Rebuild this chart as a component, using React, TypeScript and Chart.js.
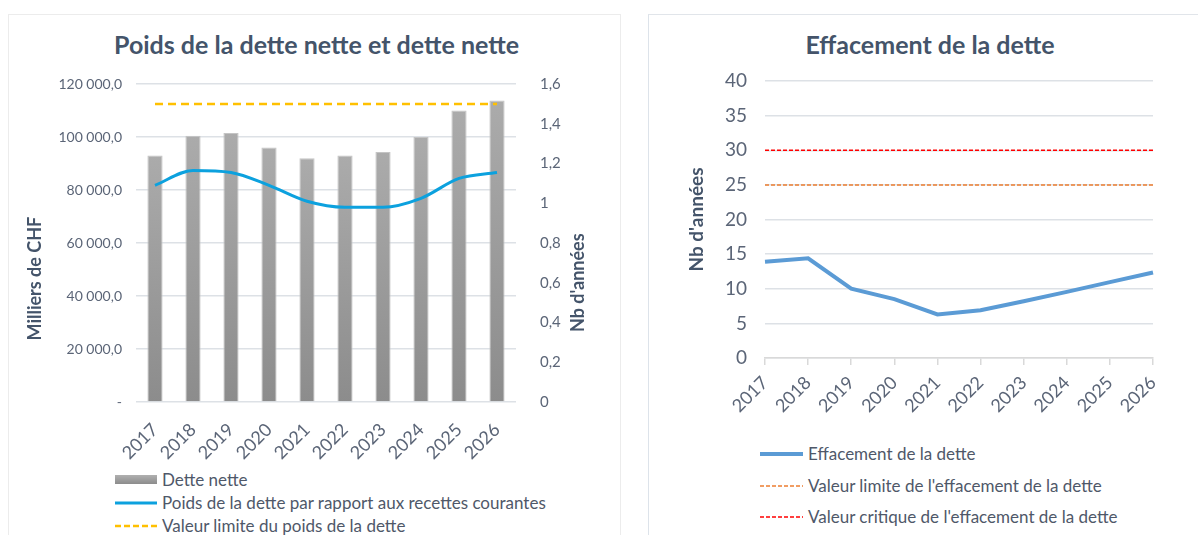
import React, { useEffect, useRef } from 'react';
import { Chart, registerables } from 'chart.js';

Chart.register(...registerables);

// ---------- Data ----------
const years = ['2017', '2018', '2019', '2020', '2021', '2022', '2023', '2024', '2025', '2026'];
const detteNette = [93000, 100500, 101500, 96000, 92000, 93000, 94300, 100000, 110000, 113800];
const poidsDette = [1.09, 1.165, 1.155, 1.09, 1.01, 0.98, 0.98, 1.025, 1.125, 1.155];
const poidsLimite = [1.5, 1.5, 1.5, 1.5, 1.5, 1.5, 1.5, 1.5, 1.5, 1.5];
const leftTickLabels = ['-', '20 000,0', '40 000,0', '60 000,0', '80 000,0', '100 000,0', '120 000,0'];
const rightTickLabels = ['0', '0,2', '0,4', '0,6', '0,8', '1', '1,2', '1,4', '1,6'];

const effacement = [13.9, 14.4, 10.0, 8.5, 6.3, 6.9, 8.2, 9.55, 10.95, 12.35];
const effLimite = [25, 25, 25, 25, 25, 25, 25, 25, 25, 25];
const effCritique = [30, 30, 30, 30, 30, 30, 30, 30, 30, 30];
const effTickLabels = ['0', '5', '10', '15', '20', '25', '30', '35', '40'];

const FONT = 'Lato, "Open Sans", sans-serif';
const TITLE_COLOR = '#44546a';
const TICK_COLOR = '#5b6577';
const LEGEND_COLOR = '#4f5869';
const GRID = '#dde1e6';

// Draws the two rotated axis titles of the left chart (they sit below the axis middle)
const sideTitles = {
  id: 'sideTitles',
  afterDraw(chart: any) {
    const { ctx, chartArea } = chart;
    const h = chartArea.bottom - chartArea.top;
    ctx.save();
    ctx.fillStyle = TITLE_COLOR;
    ctx.font = `bold 18px ${FONT}`;
    ctx.textAlign = 'center';
    ctx.textBaseline = 'middle';
    ctx.save();
    ctx.translate(chartArea.left - 101, chartArea.top + h * 0.612);
    ctx.rotate(-Math.PI / 2);
    ctx.fillText('Milliers de CHF', 0, 0);
    ctx.restore();
    ctx.save();
    ctx.translate(chartArea.right + 62, chartArea.top + h * 0.625);
    ctx.rotate(-Math.PI / 2);
    ctx.fillText("Nb d'années", 0, 0);
    ctx.restore();
    ctx.restore();
  },
};

function LeftChart() {
  const ref = useRef<HTMLCanvasElement>(null);
  useEffect(() => {
    if (!ref.current) return;
    const chart = new Chart(ref.current, {
      type: 'bar',
      data: {
        labels: years,
        datasets: [
          {
            type: 'line',
            label: 'Valeur limite du poids de la dette',
            data: poidsLimite,
            yAxisID: 'y1',
            borderColor: '#ffc000',
            borderWidth: 2.5,
            borderDash: [8, 5],
            pointRadius: 0,
            fill: false,
            order: 1,
          },
          {
            type: 'line',
            label: 'Poids de la dette par rapport aux recettes courantes',
            data: poidsDette,
            yAxisID: 'y1',
            borderColor: '#0ca1de',
            borderWidth: 3,
            cubicInterpolationMode: 'monotone',
            pointRadius: 0,
            fill: false,
            order: 2,
          },
          {
            type: 'bar',
            label: 'Dette nette',
            data: detteNette,
            yAxisID: 'y',
            backgroundColor: (ctx: any) => {
              const c = ctx.chart;
              const area = c.chartArea;
              if (!area || ctx.parsed == null) return '#9a9a9a';
              const yScale = c.scales.y;
              const top = yScale.getPixelForValue(ctx.parsed.y);
              const bottom = yScale.getPixelForValue(0);
              if (!isFinite(top) || !isFinite(bottom) || top === bottom) return '#9a9a9a';
              const g = c.ctx.createLinearGradient(0, top, 0, bottom);
              g.addColorStop(0, '#ababab');
              g.addColorStop(1, '#8c8c8c');
              return g;
            },
            borderColor: '#c4c4c4',
            borderWidth: { left: 1, right: 1, top: 1, bottom: 0 },
            barPercentage: 0.4,
            categoryPercentage: 1,
            order: 3,
          },
        ],
      },
      options: {
        responsive: false,
        animation: false,
        devicePixelRatio: 1,
        layout: { padding: { left: 12, right: 25, top: 70, bottom: 0 } },
        plugins: {
          legend: { display: false },
          tooltip: { enabled: false },
          title: { display: false },
        },
        scales: {
          x: {
            grid: { display: false },
            border: { display: false },
            ticks: {
              color: TICK_COLOR,
              font: { family: FONT, size: 18 },
              minRotation: 45,
              maxRotation: 45,
              padding: 9,
            },
            afterFit: (s: any) => { s.height = 60; },
          },
          y: {
            position: 'left',
            min: 0,
            max: 120000,
            grid: { color: GRID, lineWidth: 1.5, drawTicks: false },
            border: { display: false },
            ticks: {
              stepSize: 20000,
              color: TICK_COLOR,
              font: { family: FONT, size: 14 },
              padding: 14,
              callback: (_v: any, i: number) => leftTickLabels[i],
            },
            afterFit: (s: any) => { s.width = 116; },
          },
          y1: {
            position: 'right',
            min: 0,
            max: 1.6,
            grid: { display: false },
            border: { display: false },
            ticks: {
              stepSize: 0.2,
              color: TICK_COLOR,
              font: { family: FONT, size: 15 },
              padding: 16,
              callback: (_v: any, i: number) => rightTickLabels[i],
            },
            afterFit: (s: any) => { s.width = 79; },
          },
        },
      } as any,
      plugins: [sideTitles],
    });
    return () => chart.destroy();
  }, []);
  return <canvas ref={ref} width={612} height={448} style={{ position: 'absolute', left: 0, top: 0 }} />;
}

function RightChart() {
  const ref = useRef<HTMLCanvasElement>(null);
  useEffect(() => {
    if (!ref.current) return;
    const chart = new Chart(ref.current, {
      type: 'line',
      data: {
        labels: years,
        datasets: [
          {
            label: 'Effacement de la dette',
            data: effacement,
            borderColor: '#5b9bd5',
            borderWidth: 4,
            pointRadius: 0,
            tension: 0,
            fill: false,
          },
          {
            label: "Valeur limite de l'effacement de la dette",
            data: effLimite,
            borderColor: '#ed7d31',
            borderWidth: 1.5,
            borderDash: [4, 2],
            pointRadius: 0,
            fill: false,
          },
          {
            label: "Valeur critique de l'effacement de la dette",
            data: effCritique,
            borderColor: '#ff0000',
            borderWidth: 1.5,
            borderDash: [4, 2],
            pointRadius: 0,
            fill: false,
          },
        ],
      },
      options: {
        responsive: false,
        animation: false,
        devicePixelRatio: 1,
        layout: { padding: { left: 32, right: 45, top: 67, bottom: 0 } },
        plugins: {
          legend: { display: false },
          tooltip: { enabled: false },
          title: { display: false },
        },
        scales: {
          x: {
            offset: false,
            grid: { display: true, drawOnChartArea: false, drawTicks: true, tickLength: 7, color: '#d9d9d9', lineWidth: 1.5 },
            border: { display: true, color: '#d9d9d9', width: 1.5 },
            ticks: {
              color: TICK_COLOR,
              font: { family: FONT, size: 18 },
              minRotation: 45,
              maxRotation: 45,
              padding: 7,
            },
            afterFit: (s: any) => { s.height = 76; },
          },
          y: {
            min: 0,
            max: 40,
            grid: { color: GRID, lineWidth: 1.5, drawTicks: false },
            border: { display: false },
            ticks: {
              stepSize: 5,
              color: TICK_COLOR,
              font: { family: FONT, size: 19 },
              padding: 18,
              callback: (_v: any, i: number) => effTickLabels[i],
            },
            title: {
              display: true,
              text: "Nb d'années",
              color: TITLE_COLOR,
              font: { family: FONT, size: 19, weight: 'bold' },
            },
            afterFit: (s: any) => { s.width = 84; },
          },
        },
      } as any,
    });
    return () => chart.destroy();
  }, []);
  return <canvas ref={ref} width={549} height={420} style={{ position: 'absolute', left: 0, top: 0 }} />;
}

function LegendLine({ color, width, dash, thick }: { color: string; width: number; dash?: string; thick: number }) {
  return (
    <svg width={width} height={10} style={{ display: 'block' }}>
      <line x1={0} y1={5} x2={width} y2={5} stroke={color} strokeWidth={thick} strokeDasharray={dash} />
    </svg>
  );
}

export default function App() {
  const legendText: React.CSSProperties = {
    fontFamily: FONT,
    color: LEGEND_COLOR,
    whiteSpace: 'nowrap',
    position: 'absolute',
  };
  const titleStyle: React.CSSProperties = {
    position: 'absolute',
    fontFamily: FONT,
    fontWeight: 'bold',
    fontSize: 25,
    lineHeight: '30px',
    color: TITLE_COLOR,
    whiteSpace: 'nowrap',
    textAlign: 'center',
    top: 29,
  };
  return (
    <div style={{ position: 'absolute', left: 0, top: 0, width: 1198, height: 535, overflow: 'hidden', background: '#fff' }}>
      {/* Left panel */}
      <div style={{ position: 'absolute', left: 8, top: 14, width: 611, height: 540, borderTop: '1px solid #ececec', borderLeft: '1px solid #ececec', borderRight: '1px solid #ececec' }} />
      <div style={{ ...titleStyle, left: 114, width: 400 }}>Poids de la dette nette et dette nette</div>
      <div style={{ position: 'absolute', left: 8, top: 14, width: 612, height: 448 }}>
        <LeftChart />
      </div>
      {/* Left legend */}
      <div style={{ position: 'absolute', left: 115, top: 475, width: 42, height: 9, background: 'linear-gradient(#b0b0b0, #8c8c8c)' }} />
      <div style={{ ...legendText, left: 162, top: 469, fontSize: 17, lineHeight: '22px' }}>Dette nette</div>
      <div style={{ position: 'absolute', left: 115, top: 498 }}>
        <LegendLine color="#0ca1de" width={42} thick={3} />
      </div>
      <div style={{ ...legendText, left: 162, top: 492, fontSize: 17, lineHeight: '22px' }}>Poids de la dette par rapport aux recettes courantes</div>
      <div style={{ position: 'absolute', left: 115, top: 521 }}>
        <LegendLine color="#ffc000" width={42} thick={2.5} dash="6 3" />
      </div>
      <div style={{ ...legendText, left: 162, top: 515, fontSize: 17, lineHeight: '22px' }}>Valeur limite du poids de la dette</div>

      {/* Right panel */}
      <div style={{ position: 'absolute', left: 648, top: 14, width: 560, height: 540, borderTop: '1.5px solid #e1e5ea', borderLeft: '1.5px solid #dde3ea' }} />
      <div style={{ ...titleStyle, left: 780, width: 300 }}>Effacement de la dette</div>
      <div style={{ position: 'absolute', left: 649, top: 14, width: 549, height: 420 }}>
        <RightChart />
      </div>
      {/* Right legend */}
      <div style={{ position: 'absolute', left: 760, top: 449 }}>
        <LegendLine color="#5b9bd5" width={43} thick={4} />
      </div>
      <div style={{ ...legendText, left: 808, top: 443, fontSize: 17, lineHeight: '22px' }}>Effacement de la dette</div>
      <div style={{ position: 'absolute', left: 760, top: 481 }}>
        <LegendLine color="#ed7d31" width={43} thick={1.5} dash="4 2" />
      </div>
      <div style={{ ...legendText, left: 808, top: 475, fontSize: 17, lineHeight: '22px' }}>Valeur limite de l'effacement de la dette</div>
      <div style={{ position: 'absolute', left: 760, top: 512 }}>
        <LegendLine color="#ff0000" width={43} thick={1.5} dash="4 2" />
      </div>
      <div style={{ ...legendText, left: 808, top: 506, fontSize: 17, lineHeight: '22px' }}>Valeur critique de l'effacement de la dette</div>
    </div>
  );
}
